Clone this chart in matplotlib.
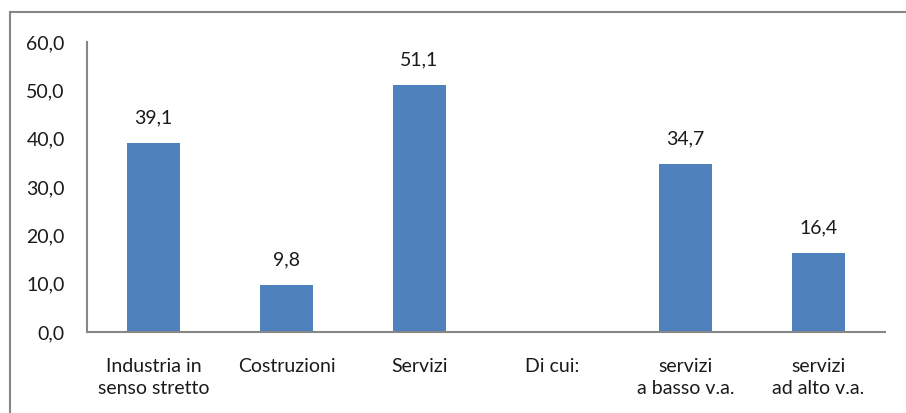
import matplotlib
matplotlib.use("Agg")
import matplotlib.pyplot as plt
from matplotlib.patches import Rectangle
import numpy as np

categories = ["Industria in\nsenso stretto", "Costruzioni", "Servizi", "Di cui:",
              "servizi\na basso v.a.", "servizi\nad alto v.a."]
values = [39.1, 9.8, 51.1, np.nan, 34.7, 16.4]
yticks = [0, 10, 20, 30, 40, 50, 60]

plt.rcParams['font.family'] = ['Lato', 'DejaVu Sans']
FS = 14
TC = "#1a1a1a"
fig = plt.figure(figsize=(9.06, 4.13), dpi=100)
ax = fig.add_axes([87/906, 1-332/413, (885-87)/906, (332-42)/413])

x = np.arange(len(categories))
ax.bar(x, np.nan_to_num(values), width=0.4, color="#4F81BD")
for xi, v in zip(x, values):
    if not np.isnan(v):
        ax.text(xi, v + 3.4, f"{v:.1f}".replace(".", ","), ha="center", va="bottom",
                fontsize=FS, color=TC)

ax.set_xlim(-0.5, len(categories) - 0.5)
ax.set_ylim(0, 60)
ax.set_yticks(yticks)
ax.set_yticklabels([f"{t:.1f}".replace(".", ",") for t in yticks], fontsize=FS, color=TC)
ax.set_xticks(x)
ax.set_xticklabels(categories, fontsize=FS, color=TC, linespacing=1.4)
ax.tick_params(axis="both", length=0)
ax.tick_params(axis="y", pad=16)
ax.tick_params(axis="x", pad=18.5)
for s in ["top", "right"]:
    ax.spines[s].set_visible(False)
for s in ["left", "bottom"]:
    ax.spines[s].set_color("#868686")
    ax.spines[s].set_linewidth(1.5)

fig.patches.append(Rectangle((10/906, -0.1), 1.2, 1 - 12/413 + 0.1, transform=fig.transFigure,
                             fill=False, edgecolor="#868686", linewidth=1.5))
fig.savefig("out.png", dpi=100)
